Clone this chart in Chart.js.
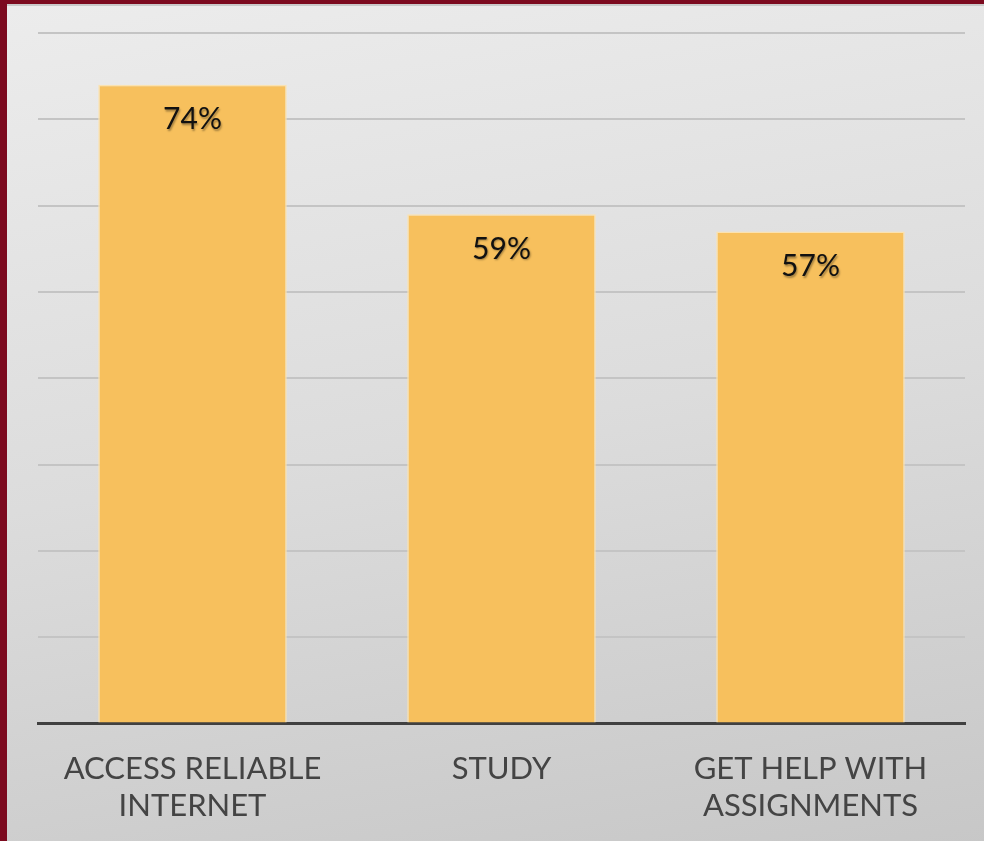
<!DOCTYPE html>
<html>
<head>
<meta charset="utf-8">
<script src="https://cdn.jsdelivr.net/npm/chart.js@4"></script>
<style>
  html, body { margin: 0; padding: 0; background: #7c0a1f; overflow: hidden; }
  #wrap {
    position: absolute; left: 7px; top: 4px; width: 977px; height: 844px; overflow: hidden;
    border-top: 2px solid #c9c9c9; box-sizing: border-box;
    background: linear-gradient(170deg, #ececec 0%, #dcdcdc 50%, #c7c7c7 100%);
  }
  canvas { display: block; }
</style>
</head>
<body>
<div id="wrap"><canvas id="chart" width="977" height="842"></canvas></div>
<script>
const categories = [['ACCESS RELIABLE', 'INTERNET'], 'STUDY', ['GET HELP WITH', 'ASSIGNMENTS']];
const values = [74, 59, 57];
const valueLabels = ['74%', '59%', '57%'];

// draw the % numbers inside the top of each bar
const barLabels = {
  id: 'barLabels',
  afterDatasetsDraw(chart) {
    const ctx = chart.ctx;
    const meta = chart.getDatasetMeta(0);
    ctx.save();
    ctx.font = '30px Lato, "Open Sans", sans-serif';
    ctx.textAlign = 'center';
    ctx.textBaseline = 'middle';
    ctx.shadowColor = 'rgba(0,0,0,0.35)';
    ctx.shadowOffsetX = 1;
    ctx.shadowOffsetY = 1.5;
    ctx.shadowBlur = 2;
    ctx.fillStyle = '#111';
    meta.data.forEach((bar, i) => {
      ctx.fillText(valueLabels[i], bar.x, bar.y + 35);
    });
    ctx.restore();
  }
};

new Chart(document.getElementById('chart'), {
  type: 'bar',
  data: {
    labels: categories,
    datasets: [{
      data: values,
      backgroundColor: '#f7c05d',
      borderColor: '#fbe2b0',
      borderWidth: 1.5,
      barPercentage: 0.61,
      categoryPercentage: 1
    }]
  },
  options: {
    responsive: false,
    animation: false,
    layout: { padding: { left: 31, right: 19, top: 27, bottom: 4 } },
    plugins: { legend: { display: false }, tooltip: { enabled: false } },
    scales: {
      x: {
        grid: { display: false },
        border: { color: '#404040', width: 3 },
        ticks: {
          color: '#444',
          font: { family: 'Lato, "Open Sans", sans-serif', size: 31 },
          padding: 19,
          maxRotation: 0
        }
      },
      y: {
        min: 0,
        max: 80,
        ticks: { stepSize: 10, display: false },
        border: { display: false },
        grid: { color: '#c4c4c4', lineWidth: 2, drawTicks: false }
      }
    }
  },
  plugins: [barLabels]
});
</script>
</body>
</html>
